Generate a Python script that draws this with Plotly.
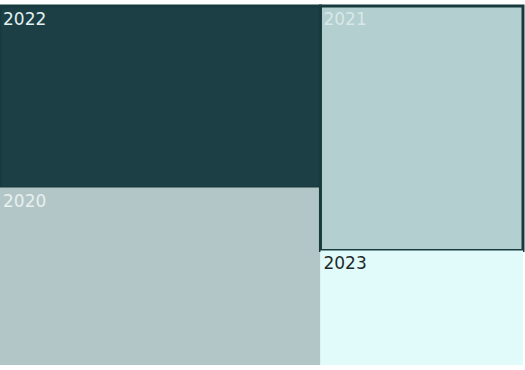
import plotly.graph_objects as go

# Yearly totals shown as a treemap
years = ["2022", "2020", "2021", "2023"]
values = [58400, 57100, 49700, 23300]

fill_colors = ["#1c3f45", "#b3c6c7", "#b3cfcf", "#e1fbfb"]
line_colors = ["#163a3d", "#b3c6c7", "#163a3d", "#e1fbfb"]
line_widths = [3, 0, 3, 0]
text_colors = ["#e2f0f0", "#e8f0f0", "#d8e8e8", "#1e2a2a"]

fig = go.Figure(
    go.Treemap(
        labels=years,
        parents=[""] * len(years),
        values=values,
        sort=True,
        tiling=dict(packing="squarify", pad=0),
        marker=dict(
            colors=fill_colors,
            line=dict(color=line_colors, width=line_widths),
            pad=dict(t=0, l=0, r=0, b=0),
        ),
        pathbar=dict(visible=False),
        textinfo="label",
        textposition="top left",
        textfont=dict(family="DejaVu Sans", size=17, color=text_colors),
        hoverinfo="label+value",
    )
)

fig.update_layout(
    width=525,
    height=370,
    margin=dict(l=0, r=2, t=6, b=5),
    paper_bgcolor="white",
    showlegend=False,
)

fig.write_html("out.html")
